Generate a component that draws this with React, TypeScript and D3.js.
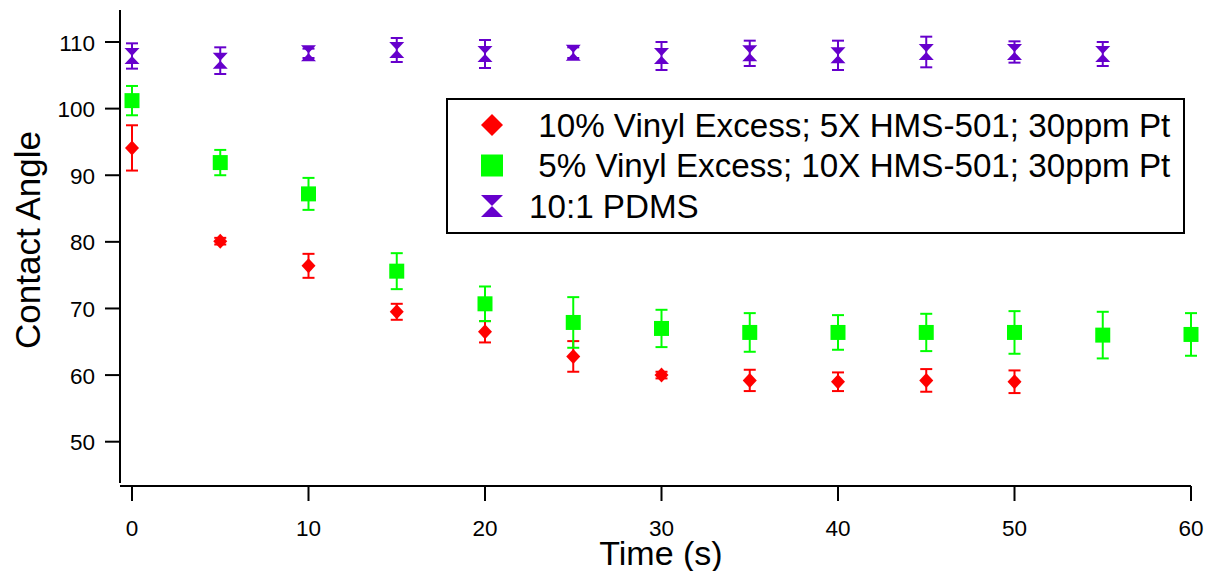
import * as d3 from "d3";

// time points (s)
const times = [0, 5, 10, 15, 20, 25, 30, 35, 40, 45, 50, 55, 60];

// 10% Vinyl Excess; 5X HMS-501; 30ppm Pt
const vinyl10 = [94.1, 80.1, 76.4, 69.5, 66.5, 62.8, 60.0, 59.2, 59.0, 59.2, 59.0];
const vinyl10Err = [3.4, 0.5, 1.8, 1.2, 1.6, 2.3, 0.5, 1.6, 1.4, 1.7, 1.7];

// 5% Vinyl Excess; 10X HMS-501; 30ppm Pt
const vinyl5 = [101.2, 91.9, 87.2, 75.6, 70.7, 67.9, 67.0, 66.4, 66.4, 66.4, 66.4, 66.0, 66.1];
const vinyl5Err = [2.2, 1.9, 2.4, 2.7, 2.6, 3.8, 2.8, 2.9, 2.6, 2.8, 3.2, 3.5, 3.2];

// 10:1 PDMS
const pdms = [107.9, 107.2, 108.3, 108.8, 108.2, 108.4, 107.9, 108.3, 108.0, 108.5, 108.5, 108.2];
const pdmsErr = [1.9, 2.0, 0.7, 1.8, 2.1, 0.8, 2.1, 1.9, 2.2, 2.3, 1.6, 1.8];

const xTicks = [0, 10, 20, 30, 40, 50, 60];
const yTicks = [50, 60, 70, 80, 90, 100, 110];

const legendLabels = [
  " 10% Vinyl Excess; 5X HMS-501; 30ppm Pt",
  " 5% Vinyl Excess; 10X HMS-501; 30ppm Pt",
  "10:1 PDMS",
];

const RED = "#ff0000";
const GREEN = "#00ff00";
const PURPLE = "#6600cc";
const FONT = "'Liberation Sans', Arial, sans-serif";

type Shape = "diamond" | "square" | "hourglass";

const markerPath = (shape: Shape, w: number, h: number) => {
  if (shape === "diamond") return `M0,${-h}L${w},0L0,${h}L${-w},0Z`;
  if (shape === "square") return `M${-w},${-h}H${w}V${h}H${-w}Z`;
  return `M${-w},${-h}L${w},${-h}L${-w},${h}L${w},${h}Z`;
};

const series = [
  { values: vinyl10, errs: vinyl10Err, color: RED, shape: "diamond" as Shape, w: 7, h: 7.5 },
  { values: vinyl5, errs: vinyl5Err, color: GREEN, shape: "square" as Shape, w: 7.5, h: 7.5 },
  { values: pdms, errs: pdmsErr, color: PURPLE, shape: "hourglass" as Shape, w: 7.5, h: 8 },
];

export default function App() {
  const width = 1208;
  const height = 571;

  const x = d3.scaleLinear().domain([0, 60]).range([132, 1191]);
  const y = d3.scaleLinear().domain([50, 110]).range([441.7, 42]);

  const xAxisY = 486;
  const yAxisX = 120;
  const cap = 6;

  return (
    <svg
      width={width}
      height={height}
      style={{ position: "absolute", left: 0, top: 0, background: "#fff" }}
      fontFamily={FONT}
    >
      {/* axes */}
      <line x1={yAxisX} x2={yAxisX} y1={y(114.8)} y2={y(43.8)} stroke="#000" strokeWidth={2} />
      <line x1={x(-0.68)} x2={x(60)} y1={xAxisY} y2={xAxisY} stroke="#000" strokeWidth={2} />
      {yTicks.map((t) => (
        <g key={t}>
          <line x1={yAxisX - 15} x2={yAxisX} y1={y(t)} y2={y(t)} stroke="#000" strokeWidth={2} />
          <text x={95} y={y(t) + 8.5} textAnchor="end" fontSize={22.5}>
            {t}
          </text>
        </g>
      ))}
      {xTicks.map((t) => (
        <g key={t}>
          <line x1={x(t)} x2={x(t)} y1={xAxisY} y2={xAxisY + 15} stroke="#000" strokeWidth={2} />
          <text x={x(t)} y={536} textAnchor="middle" fontSize={22.5}>
            {t}
          </text>
        </g>
      ))}
      <text x={661} y={565} textAnchor="middle" fontSize={34}>
        Time (s)
      </text>
      <text transform="translate(40,240) rotate(-90)" textAnchor="middle" fontSize={35}>
        Contact Angle
      </text>

      {/* data */}
      {series.map((s, si) => (
        <g key={si}>
          {s.values.map((v, i) => {
            const cx = x(times[i]);
            const top = y(v + s.errs[i]);
            const bot = y(v - s.errs[i]);
            return (
              <g key={i} stroke={s.color} strokeWidth={2}>
                <line x1={cx} x2={cx} y1={top} y2={bot} />
                <line x1={cx - cap} x2={cx + cap} y1={top} y2={top} />
                <line x1={cx - cap} x2={cx + cap} y1={bot} y2={bot} />
              </g>
            );
          })}
          {s.values.map((v, i) => (
            <path
              key={"m" + i}
              d={markerPath(s.shape, s.w, s.h)}
              transform={`translate(${x(times[i])},${y(v)})`}
              fill={s.color}
            />
          ))}
        </g>
      ))}

      {/* legend */}
      <rect x={447} y={99} width={737} height={134} fill="#fff" stroke="#000" strokeWidth={2} />
      {series.map((s, i) => (
        <g key={i} transform={`translate(492,${125 + i * 40.5})`}>
          <path d={markerPath(s.shape, 11, 11)} fill={s.color} />
          <text x={37} y={11.5} fontSize={33.2} style={{ whiteSpace: "pre" }}>
            {legendLabels[i]}
          </text>
        </g>
      ))}
    </svg>
  );
}
